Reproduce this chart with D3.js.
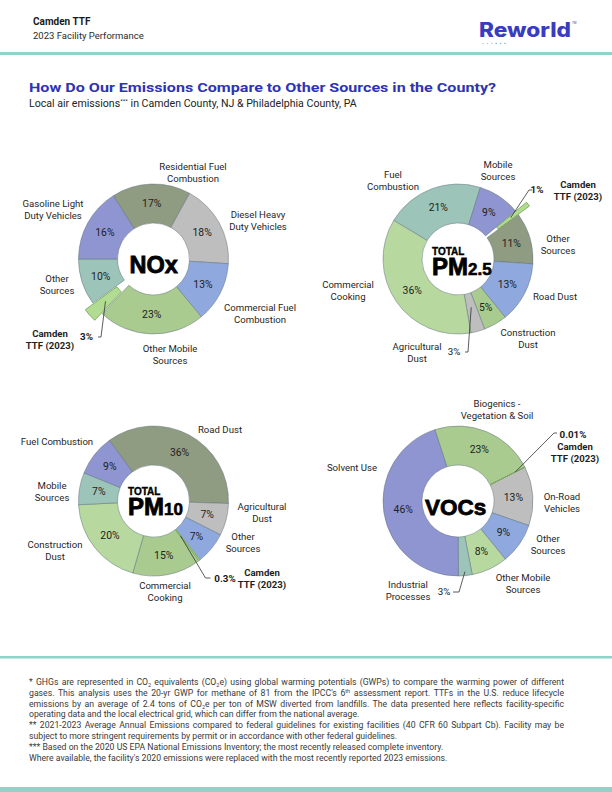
<!DOCTYPE html>
<html><head><meta charset="utf-8">
<script src="https://cdn.jsdelivr.net/npm/d3@7"></script>
<style>body{margin:0;background:#fff}svg{display:block}</style>
</head><body><svg id="c" width="612" height="792"></svg>
<script>
// ---------------- DATA ----------------
const noxCategories = ["Residential Fuel\nCombustion","Diesel Heavy\nDuty Vehicles","Commercial Fuel\nCombustion","Other Mobile\nSources","Camden\nTTF (2023)","Other\nSources","Gasoline Light\nDuty Vehicles"];
const noxValues = [17,18,13,23,3,10,16];
const noxPctLabels = ["17%","18%","13%","23%","3%","10%","16%"];

const pm25Categories = ["Fuel\nCombustion","Mobile\nSources","Camden\nTTF (2023)","Other\nSources","Road Dust","Construction\nDust","Agricultural\nDust","Commercial\nCooking"];
const pm25Values = [21,9,1,11,13,5,3,36];
const pm25PctLabels = ["21%","9%","1%","11%","13%","5%","3%","36%"];

const pm10Categories = ["Road Dust","Agricultural\nDust","Other\nSources","Camden\nTTF (2023)","Commercial\nCooking","Construction\nDust","Mobile\nSources","Fuel Combustion"];
const pm10Values = [36,7,7,0.3,15,20,7,9];
const pm10PctLabels = ["36%","7%","7%","0.3%","15%","20%","7%","9%"];

const vocCategories = ["Biogenics -\nVegetation & Soil","Camden\nTTF (2023)","On-Road\nVehicles","Other\nSources","Other Mobile\nSources","Industrial\nProcesses","Solvent Use"];
const vocValues = [23,0.01,13,9,8,3,46];
const vocPctLabels = ["23%","0.01%","13%","9%","8%","3%","46%"];

const footnoteLines = [
 "* GHGs are represented in CO_{2} equivalents (CO_{2}e) using global warming potentials (GWPs) to compare the warming power of different",
 "gases. This analysis uses the 20-yr GWP for methane of 81 from the IPCC's 6^{th} assessment report. TTFs in the U.S. reduce lifecycle",
 "emissions by an average of 2.4 tons of CO_{2}e per ton of MSW diverted from landfills. The data presented here reflects facility-specific",
 "operating data and the local electrical grid, which can differ from the national average.",
 "** 2021-2023 Average Annual Emissions compared to federal guidelines for existing facilities (40 CFR 60 Subpart Cb). Facility may be",
 "subject to more stringent requirements by permit or in accordance with other federal guidelines.",
 "*** Based on the 2020 US EPA National Emissions Inventory; the most recently released complete inventory.",
 "Where available, the facility's 2020 emissions were replaced with the most recently reported 2023 emissions."
];
const footnoteJustified = [true,true,true,false,true,false,false,false];

// ---------------- STYLE / LAYOUT ----------------
const C = {olive:"#8f9c81", gray:"#bebebe", lblue:"#8fa9de", green:"#a9cb8f", lgreen:"#b7d9a0",
           teal:"#9dc4b8", purple:"#8f95d0", camden:"#b3dc93"};
const FONT = "Roboto, 'Liberation Sans', sans-serif";
const HEAVY = "'Liberation Sans', Arial, sans-serif";
const R = 75, r0 = 36, pctR = 55.5;

const charts = [
 {cats:noxCategories, vals:noxValues, pcts:noxPctLabels, cx:153.5, cy:259, start:-32.4,
  colors:[C.olive,C.gray,C.lblue,C.green,C.camden,C.teal,C.purple],
  camden:4, explode:10,
  lab:[[39.5,-92],[104.5,-44],[106.5,49],[16.5,90],[-103.5,75],[-96.5,20],[-100.5,-55]],
  callouts:{4:{pos:[-67,78],bold:true,leader:[[-55.5,78],[-52.5,78]],rEnd:64}},
  center:"nox"},
 {cats:pm25Categories, vals:pm25Values, pcts:pm25PctLabels, cx:458, cy:259, start:-59,
  colors:[C.teal,C.purple,C.camden,C.olive,C.lblue,C.green,C.gray,C.lgreen],
  camden:2, explode:14,
  lab:[[-65,-84],[40,-94],[120,-74],[100,-20],[97,38],[70,74],[-41,88],[-110,26]],
  callouts:{2:{pos:[79,-69],bold:true,leader:[[74,-69],[71,-69]],rEnd:67},
            6:{pos:[-4,93],bold:false,leader:[[7,93],[10,93]],rEnd:50}},
  center:"pm25"},
 {cats:pm10Categories, vals:pm10Values, pcts:pm10PctLabels, cx:153.5, cy:501, start:-36,
  colors:[C.olive,C.gray,C.lblue,C.camden,C.green,C.lgreen,C.teal,C.purple],
  camden:3, explode:0,
  lab:[[66.5,-71],[108.5,6],[89.5,36],[108.5,72],[11.5,85],[-98.5,44],[-101.5,-15],[-96.5,-59]],
  callouts:{3:{pos:[71.5,78],bold:true,leader:[[57,77],[52,77]],rEnd:44}},
  center:"pm10"},
 {cats:vocCategories, vals:vocValues, pcts:vocPctLabels, cx:458, cy:501, start:-18,
  colors:[C.green,C.camden,C.gray,C.lblue,C.lgreen,C.teal,C.purple],
  camden:1, explode:0,
  lab:[[39,-97],[117,-54],[104,-4],[90,38],[65,77],[-50,84],[-106,-33]],
  callouts:{1:{pos:[115,-66],bold:true,leader:[[99,-68],[96,-68]],rEnd:64},
            5:{pos:[-14,91],bold:false,leader:[[-5,91],[1,91]],rEnd:71}},
  center:"voc"}
];

const svg = d3.select("#c");
const rad = d => d*Math.PI/180;

// ---------------- HEADER ----------------
svg.append("text").attr("x",33).attr("y",25).attr("font-family",FONT).attr("font-weight",700)
  .attr("font-size",10).attr("fill","#1a1a1a").text("Camden TTF");
svg.append("text").attr("x",33).attr("y",38.5).attr("font-family",FONT)
  .attr("font-size",9.5).attr("fill","#2a2a2a").text("2023 Facility Performance");
svg.append("text").attr("x",479).attr("y",37).attr("font-family","Inter, "+FONT).attr("font-weight",800)
  .attr("font-size",19.5).attr("fill","#3a3cc0").attr("textLength",92).attr("lengthAdjust","spacingAndGlyphs").text("Reworld");
svg.append("text").attr("x",572).attr("y",24).attr("font-family",FONT).attr("font-size",3).attr("fill","#3a3cc0").text("TM");
d3.range(6).forEach(i=>svg.append("circle").attr("cx",483+i*4.4).attr("cy",43.5).attr("r",0.8)
  .attr("fill", i<3 ? "#9fd8d0" : "#7fb6e0"));
svg.append("rect").attr("x",0).attr("y",52).attr("width",612).attr("height",3).attr("fill","#8fd4c9");

svg.append("text").attr("x",29).attr("y",91.5).attr("font-family",FONT).attr("font-weight",700)
  .attr("font-size",13.6).attr("fill","#2e33b5").attr("textLength",467).attr("lengthAdjust","spacingAndGlyphs")
  .text("How Do Our Emissions Compare to Other Sources in the County?");
const sub = svg.append("text").attr("x",29).attr("y",106.5).attr("font-family",FONT)
  .attr("font-size",10.6).attr("fill","#222");
sub.append("tspan").text("Local air emissions");
sub.append("tspan").attr("dy",-4).attr("font-size",6).text("***");
sub.append("tspan").attr("dy",4).text(" in Camden County, NJ & Philadelphia County, PA");

// ---------------- DONUTS ----------------
const arc = d3.arc().innerRadius(r0).outerRadius(R);
charts.forEach(ch => {
  const g = svg.append("g").attr("transform",`translate(${ch.cx},${ch.cy})`);
  const pie = d3.pie().sort(null).value(d=>d)
     .startAngle(rad(ch.start)).endAngle(rad(ch.start)+2*Math.PI);
  const arcs = pie(ch.vals);
  const mid = a => (a.startAngle+a.endAngle)/2;
  const order = d3.range(arcs.length).filter(i=>i!==ch.camden).concat([ch.camden]);
  order.forEach(i=>{
    const a = arcs[i];
    const isC = i===ch.camden;
    const off = isC ? ch.explode : 0;
    const m = mid(a);
    g.append("path").attr("d",arc(a))
      .attr("transform",`translate(${off*Math.sin(m)},${-off*Math.cos(m)})`)
      .attr("fill",ch.colors[i])
      .attr("stroke", isC ? "#7aa95c" : "#5d6d7a")
      .attr("stroke-width", isC ? 0.9 : 0.6)
      .attr("stroke-opacity", isC ? 1 : 0.8);
  });
  arcs.forEach((a,i)=>{
    if (ch.callouts[i]) return;
    const m = mid(a);
    g.append("text").attr("x",pctR*Math.sin(m)).attr("y",-pctR*Math.cos(m)).attr("dy","0.35em")
      .attr("text-anchor","middle").attr("font-family",FONT).attr("font-size",10.4).attr("fill","#222")
      .text(ch.pcts[i]);
  });
  Object.keys(ch.callouts).forEach(k=>{
    const i = +k, co = ch.callouts[i], a = arcs[i], m = mid(a);
    g.append("text").attr("x",co.pos[0]).attr("y",co.pos[1]).attr("dy","0.35em")
      .attr("text-anchor","middle").attr("font-family",FONT).attr("font-size",9.8)
      .attr("font-weight",co.bold?700:400).attr("fill","#1a1a1a").text(ch.pcts[i]);
    const end = [(co.rEnd)*Math.sin(m), -(co.rEnd)*Math.cos(m)];
    const pts = co.leader.concat([end]);
    g.append("path").attr("d",d3.line()(pts)).attr("fill","none")
      .attr("stroke","#333").attr("stroke-width",0.8);
  });
  ch.cats.forEach((c,i)=>{
    const lines = c.split("\n");
    const t = g.append("text").attr("text-anchor","middle").attr("font-family",FONT)
      .attr("font-size",9.6).attr("fill","#1f1f1f").attr("font-weight", i===ch.camden?700:400);
    lines.forEach((l,j)=>t.append("tspan").attr("x",ch.lab[i][0])
      .attr("y",ch.lab[i][1]+j*11.8).attr("dy","0.35em").text(l));
  });
  // center text: one text element, tspans for parts
  const ct = parts => {
    const t = g.append("text").attr("font-family",HEAVY).attr("font-weight",900)
      .attr("fill","#000").attr("stroke","#000");
    parts.forEach(p=>t.append("tspan").attr("x",p[1]).attr("y",p[2]).attr("font-size",p[3])
      .attr("stroke-width",p[3]*0.035).text(p[0]));
  };
  if (ch.center==="nox") ct([["NOx",-24,14,23.5]]);
  if (ch.center==="voc") ct([["VOCs",-33,14,22.5]]);
  if (ch.center==="pm25") ct([["TOTAL",-26,-4,10],["PM",-26,16,24],["2.5",10,16,17]]);
  if (ch.center==="pm10") ct([["TOTAL",-25.5,-6,10],["PM",-25.5,14,24],["10",10.5,14,17]]);
});

// ---------------- FOOTER ----------------
svg.append("rect").attr("x",0).attr("y",656).attr("width",612).attr("height",2.5).attr("fill","#8fd4c9");
svg.append("rect").attr("x",0).attr("y",787).attr("width",612).attr("height",5).attr("fill","#8fd4c9");
footnoteLines.forEach((line,i)=>{
  const t = svg.append("text").attr("x",29).attr("y",685+i*10.8).attr("font-family",FONT)
     .attr("font-size",8.7).attr("fill","#3a3a3a");
  const parts = line.split(/(_\{[^}]*\}|\^\{[^}]*\})/).filter(s=>s.length);
  let shift = 0;
  parts.forEach(p=>{
    if (p.startsWith("_{")) { t.append("tspan").attr("dy",2).attr("font-size",5.5).text(p.slice(2,-1)); shift=-2; }
    else if (p.startsWith("^{")) { t.append("tspan").attr("dy",-3).attr("font-size",5.5).text(p.slice(2,-1)); shift=3; }
    else { t.append("tspan").attr("dy",shift).text(p); shift=0; }
  });
  if (footnoteJustified[i]) {
    const w = t.node().getComputedTextLength();
    const spaces = (line.match(/ /g)||[]).length;
    t.attr("word-spacing", Math.max(0,(535 - w)/spaces));
  }
});
</script></body></html>
